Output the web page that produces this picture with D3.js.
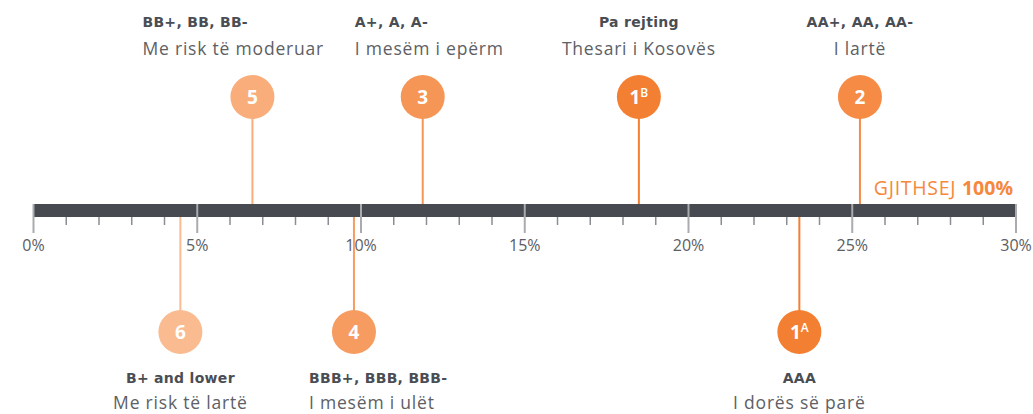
<!DOCTYPE html>
<html><head><meta charset="utf-8">
<script src="https://cdn.jsdelivr.net/npm/d3@7"></script>
<style>
html,body{margin:0;padding:0;background:#fff;}
svg{display:block;font-family:"Open Sans",sans-serif;}
</style></head>
<body><svg id="c" width="1033" height="414"></svg>
<script>
// ---- data ----
const codes = ["1", "1", "2", "3", "4", "5", "6"];
const codeSup = ["A", "B", "", "", "", "", ""];
const values = [23.4, 18.5, 25.25, 11.9, 9.8, 6.7, 4.5];
const grades = ["AAA", "Pa rejting", "AA+, AA, AA-", "A+, A, A-", "BBB+, BBB, BBB-", "BB+, BB, BB-", "B+ and lower"];
const descs = ["I dorës së parë", "Thesari i Kosovës", "I lartë", "I mesëm i epërm", "I mesëm i ulët", "Me risk të moderuar", "Me risk të lartë"];
const sides = ["below", "above", "above", "above", "below", "above", "below"];
const tickValues = [0, 5, 10, 15, 20, 25, 30];
const minorTickValues = d3.range(0, 31, 1);
const totalLabel = "GJITHSEJ";
const totalValue = "100%";

// ---- style / layout ----
const colors = ["#f37f32", "#f37f32", "#f58b45", "#f69656", "#f69c60", "#f8ad7a", "#fabb90"];
const labelOffset = [0, 0, 0, -68, -45, -110, 0];
const labelAnchor = ["middle", "middle", "middle", "start", "start", "start", "middle"];

const svg = d3.select("#c");
const x = d3.scaleLinear().domain([0, 30]).range([33, 1015.5]);
const barTop = 204, barBottom = 217;
const circleYAbove = 97, circleYBelow = 332, r = 22;

const idx = d3.range(values.length);
svg.selectAll("line.stem").data(idx).join("line")
  .attr("class", "stem")
  .attr("x1", i => x(values[i])).attr("x2", i => x(values[i]))
  .attr("y1", i => sides[i] === "above" ? circleYAbove : circleYBelow)
  .attr("y2", i => sides[i] === "above" ? barTop : barBottom)
  .attr("stroke", i => colors[i]).attr("stroke-width", 2);

svg.append("rect").attr("x", x(0)).attr("y", barTop)
  .attr("width", x(30) - x(0)).attr("height", barBottom - barTop)
  .attr("fill", "#474b51");

const minor = svg.append("g").attr("transform", `translate(0,${barBottom})`)
  .call(d3.axisBottom(x).tickValues(minorTickValues.filter(v => v % 5 !== 0)).tickSize(8).tickFormat(""));
minor.select(".domain").remove();
minor.selectAll(".tick line").attr("stroke", "#8a8d91").attr("stroke-width", 1.5);

const major = svg.append("g").attr("transform", `translate(0,${barTop})`)
  .call(d3.axisBottom(x).tickValues(tickValues).tickSize(29).tickPadding(7).tickFormat(d => d + "%"));
major.select(".domain").remove();
major.selectAll(".tick line").attr("stroke", "#a9abae").attr("stroke-width", 2);
major.selectAll(".tick text").attr("fill", "#5b5e63").attr("font-size", 16)
  .attr("font-family", "'Open Sans', sans-serif");

const g = svg.selectAll("g.pt").data(idx).join("g").attr("class", "pt")
  .attr("transform", i => `translate(${x(values[i])},${sides[i] === "above" ? circleYAbove : circleYBelow})`);
g.append("circle").attr("r", r).attr("fill", i => colors[i]);
const t = g.append("text").attr("text-anchor", "middle").attr("y", 7)
  .attr("fill", "#fff").attr("font-weight", 700).attr("font-size", 19);
t.append("tspan").text(i => codes[i]);
t.filter(i => codeSup[i]).append("tspan").attr("font-size", 12).attr("font-weight", 600).attr("dy", -7).text(i => codeSup[i]);

const lab = svg.selectAll("g.lab").data(idx).join("g").attr("class", "lab")
  .attr("transform", i => `translate(${x(values[i]) + labelOffset[i]},0)`);
lab.append("text").attr("y", i => sides[i] === "above" ? 27 : 383)
  .attr("text-anchor", i => labelAnchor[i])
  .attr("fill", "#4a4e54").attr("font-weight", 700).attr("font-size", 14)
  .attr("letter-spacing", 0.3)
  .attr("font-family", "'DejaVu Sans', sans-serif")
  .text(i => grades[i]);
lab.append("text").attr("y", i => sides[i] === "above" ? 55 : 409)
  .attr("text-anchor", i => labelAnchor[i])
  .attr("fill", "#5d6065").attr("font-size", 17.5)
  .attr("letter-spacing", 0.8)
  .text(i => descs[i]);

const tt = svg.append("text").attr("x", 1013).attr("y", 195).attr("text-anchor", "end")
  .attr("fill", "#f5883c").attr("font-size", 19.5);
tt.append("tspan").attr("letter-spacing", 0.7).text(totalLabel + " ");
tt.append("tspan").attr("font-weight", 700).text(totalValue);
</script>
</body></html>
